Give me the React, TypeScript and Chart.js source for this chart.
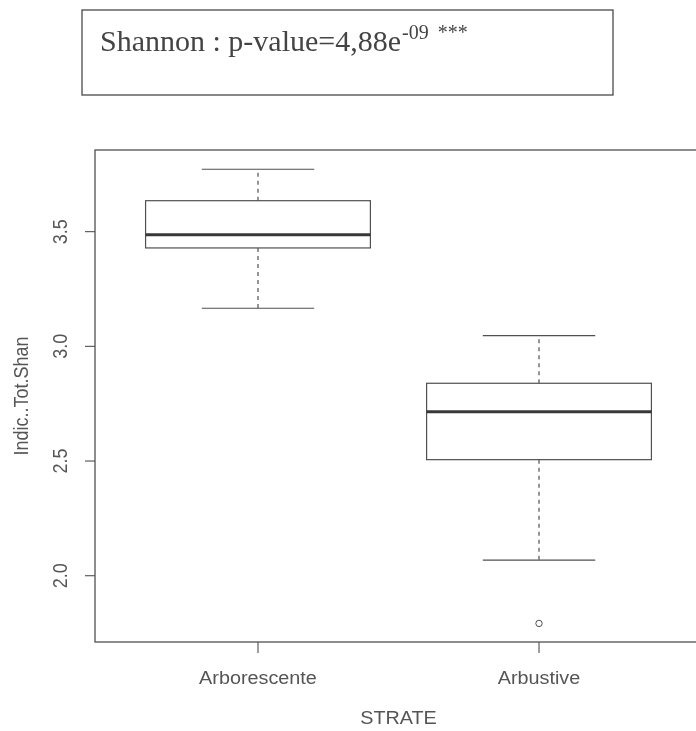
import React, { useEffect, useRef } from "react";
import { Chart, registerables } from "chart.js";

Chart.register(...registerables);

const categories = ["Arborescente", "Arbustive"];
const categoryPositions = [1, 2];
const whiskerLow = [3.166, 2.068];
const q1 = [3.429, 2.506];
const median = [3.486, 2.715];
const q3 = [3.635, 2.839];
const whiskerHigh = [3.772, 3.047];
const outlierPositions = [2];
const outlierValues = [1.792];
const yTicks = [2.0, 2.5, 3.0, 3.5];
const yRange = [1.711, 3.856];
const xRange = [0.42, 2.58];
const titleMain = "Shannon : p-value=4,88e";
const titleExp = "-09";
const titleStars = "***";
const yTitle = "Indic..Tot.Shan";
const xTitle = "STRATE";

const LINE = "#505050";
const TEXT = "#555555";
const SANS = "'Liberation Sans', Arial, sans-serif";
const SX = 1.1;

function stretchedText(ctx: CanvasRenderingContext2D, text: string, x: number, y: number, rot: number) {
  ctx.save();
  ctx.translate(x, y);
  ctx.scale(SX, 1);
  ctx.rotate(rot);
  ctx.fillText(text, 0, 0);
  ctx.restore();
}

const boxPlugin = {
  id: "rbox",
  beforeDatasetsDraw(chart: any) {
    const ctx: CanvasRenderingContext2D = chart.ctx;
    const xs = chart.scales.x;
    const ys = chart.scales.y;
    ctx.save();
    categoryPositions.forEach((pos, i) => {
      const cx = xs.getPixelForValue(pos);
      const bl = xs.getPixelForValue(pos - 0.4);
      const br = xs.getPixelForValue(pos + 0.4);
      const sl = xs.getPixelForValue(pos - 0.2);
      const sr = xs.getPixelForValue(pos + 0.2);
      const yLo = ys.getPixelForValue(whiskerLow[i]);
      const yQ1 = ys.getPixelForValue(q1[i]);
      const yMed = ys.getPixelForValue(median[i]);
      const yQ3 = ys.getPixelForValue(q3[i]);
      const yHi = ys.getPixelForValue(whiskerHigh[i]);
      ctx.strokeStyle = LINE;
      ctx.lineWidth = 1.2;
      // dashed whiskers
      ctx.setLineDash([4, 4]);
      ctx.beginPath();
      ctx.moveTo(cx, yQ3);
      ctx.lineTo(cx, yHi);
      ctx.moveTo(cx, yQ1);
      ctx.lineTo(cx, yLo);
      ctx.stroke();
      ctx.setLineDash([]);
      // staples
      ctx.beginPath();
      ctx.moveTo(sl, yHi);
      ctx.lineTo(sr, yHi);
      ctx.moveTo(sl, yLo);
      ctx.lineTo(sr, yLo);
      ctx.stroke();
      // box
      ctx.strokeRect(bl, yQ3, br - bl, yQ1 - yQ3);
      // median
      ctx.strokeStyle = "#383838";
      ctx.lineWidth = 3;
      ctx.beginPath();
      ctx.moveTo(bl, yMed);
      ctx.lineTo(br, yMed);
      ctx.stroke();
    });
    ctx.restore();
  },
  afterDraw(chart: any) {
    const ctx: CanvasRenderingContext2D = chart.ctx;
    const xs = chart.scales.x;
    const ys = chart.scales.y;
    const a = chart.chartArea;
    ctx.save();
    // frame
    ctx.strokeStyle = LINE;
    ctx.lineWidth = 1.3;
    ctx.strokeRect(a.left, a.top, a.right - a.left, a.bottom - a.top);
    // x ticks
    ctx.fillStyle = TEXT;
    ctx.font = `18px ${SANS}`;
    ctx.textAlign = "center";
    ctx.textBaseline = "alphabetic";
    ctx.lineWidth = 1.1;
    categoryPositions.forEach((pos, i) => {
      const px = xs.getPixelForValue(pos);
      ctx.beginPath();
      ctx.moveTo(px, a.bottom);
      ctx.lineTo(px, a.bottom + 11);
      ctx.stroke();
      stretchedText(ctx, categories[i], px, a.bottom + 42, 0);
    });
    // y ticks
    yTicks.forEach((v) => {
      const py = ys.getPixelForValue(v);
      ctx.beginPath();
      ctx.moveTo(a.left, py);
      ctx.lineTo(a.left - 10, py);
      ctx.stroke();
      stretchedText(ctx, v.toFixed(1), a.left - 28, py, -Math.PI / 2);
    });
    // axis titles
    stretchedText(ctx, xTitle, (a.left + a.right) / 2, a.bottom + 82, 0);
    stretchedText(ctx, yTitle, 28, (a.top + a.bottom) / 2, -Math.PI / 2);

    // title box
    ctx.strokeStyle = "#4a4a4a";
    ctx.lineWidth = 1.3;
    ctx.strokeRect(82, 10, 531, 85);
    ctx.fillStyle = "#444444";
    ctx.textAlign = "left";
    ctx.font = "30px 'Liberation Serif', 'Times New Roman', serif";
    ctx.fillText(titleMain, 100, 51);
    const w = ctx.measureText(titleMain).width;
    ctx.font = "20px 'Liberation Serif', 'Times New Roman', serif";
    ctx.fillText(titleExp, 100 + w + 1, 39);
    const w2 = ctx.measureText(titleExp).width;
    ctx.fillText(titleStars, 100 + w + 1 + w2 + 9, 39);
    ctx.restore();
  },
};

export default function App() {
  const ref = useRef<HTMLCanvasElement | null>(null);
  useEffect(() => {
    if (!ref.current) return;
    const chart = new Chart(ref.current, {
      type: "scatter",
      data: {
        datasets: [
          {
            data: outlierPositions.map((p, i) => ({ x: p, y: outlierValues[i] })),
            pointStyle: "circle",
            pointRadius: 3.2,
            pointBorderWidth: 1,
            pointBorderColor: LINE,
            pointBackgroundColor: "#ffffff",
          },
        ],
      },
      options: {
        animation: false,
        responsive: false,
        events: [],
        layout: { padding: { left: 95, top: 150, right: 18, bottom: 89 } },
        plugins: { legend: { display: false }, tooltip: { enabled: false }, title: { display: false } },
        scales: {
          x: { type: "linear", min: xRange[0], max: xRange[1], display: false },
          y: { type: "linear", min: yRange[0], max: yRange[1], display: false },
        },
      },
      plugins: [boxPlugin],
    });
    return () => chart.destroy();
  }, []);
  return (
    <div style={{ position: "fixed", left: 0, top: 0, width: 696, height: 731, overflow: "hidden", background: "#fff" }}>
      <canvas ref={ref} width={720} height={731} style={{ display: "block", width: 720, height: 731 }} />
    </div>
  );
}
